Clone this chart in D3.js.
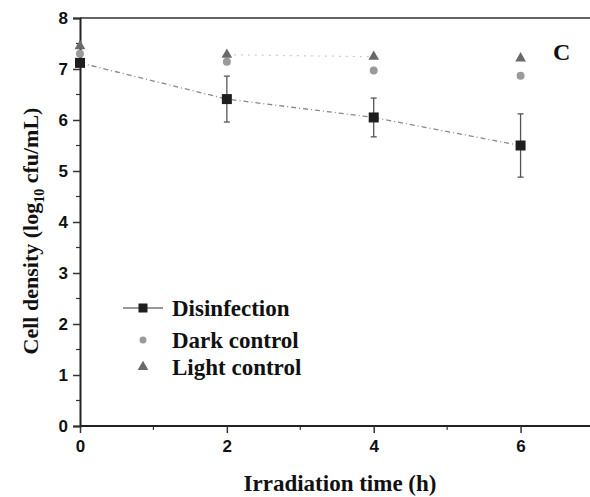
<!DOCTYPE html>
<html>
<head>
<meta charset="utf-8">
<script src="https://cdn.jsdelivr.net/npm/d3@7"></script>
<style>
  body { margin: 0; background: #fff; }
  svg { display: block; }
  .tick text { font-family: "Liberation Sans", Arial, sans-serif; font-weight: bold; font-size: 17px; fill: #111; }
  .lbl { font-family: "Liberation Serif", "Times New Roman", serif; font-weight: bold; fill: #111; }
</style>
</head>
<body>
<svg id="chart" width="590" height="497"></svg>
<script>
const times = [0, 2, 4, 6];
const disinfection = [7.12, 6.41, 6.05, 5.5];
const disinfectionErr = [0, 0.45, 0.38, 0.62];
const darkControl = [7.3, 7.14, 6.97, 6.87];
const lightControl = [7.45, 7.28, 7.24, 7.21];
const xTicks = [0, 2, 4, 6];
const yTicks = [0, 1, 2, 3, 4, 5, 6, 7, 8];
const legendNames = ["Disinfection", "Dark control", "Light control"];

const margin = { top: 18, right: 0, bottom: 71, left: 80 },
    width = 590 - margin.left - margin.right,
    height = 497 - margin.top - margin.bottom;

const svg = d3.select("#chart");
const g = svg.append("g").attr("transform", `translate(${margin.left},${margin.top})`);

const x = d3.scaleLinear().domain([0, 7]).range([0, 514]);
const y = d3.scaleLinear().domain([0, 8]).range([height, 0]);

// top frame line
g.append("line").attr("x1", 0).attr("x2", width).attr("y1", 0).attr("y2", 0)
    .attr("stroke", "#333").attr("stroke-width", 1.5);

// minor ticks
g.selectAll(".ym").data(d3.range(0.5, 8, 1)).join("line")
    .attr("x1", -4).attr("x2", 0).attr("y1", d => y(d)).attr("y2", d => y(d))
    .attr("stroke", "#333").attr("stroke-width", 1.2);
g.selectAll(".xm").data([1, 3, 5, 7]).join("line")
    .attr("x1", d => x(d)).attr("x2", d => x(d)).attr("y1", height).attr("y2", height + 4)
    .attr("stroke", "#333").attr("stroke-width", 1.2);

const yAxis = g.append("g").call(d3.axisLeft(y).tickValues(yTicks).tickSize(7).tickPadding(5).tickFormat(d3.format("d")));
const xAxis = g.append("g").attr("transform", `translate(0,${height})`)
    .call(d3.axisBottom(x).tickValues(xTicks).tickSize(7).tickPadding(7).tickFormat(d3.format("d")));
[yAxis, xAxis].forEach(a => {
    a.attr("font-size", null).attr("font-family", null);
    a.select(".domain").attr("stroke", "#222").attr("stroke-width", 2);
    a.selectAll(".tick line").attr("stroke", "#333").attr("stroke-width", 1.5);
});
xAxis.select(".domain").attr("d", `M0,0H${width}`);

// disinfection line
const line = d3.line().x((d, i) => x(times[i])).y(d => y(d));
g.append("path").datum(disinfection).attr("d", line)
    .attr("fill", "none").attr("stroke", "#888").attr("stroke-width", 1.3).attr("stroke-dasharray", "5,3,1,3");

// light control faint dotted line
g.append("path").datum(lightControl.slice(1, 3)).attr("d", d3.line().x((d, i) => x(times[i + 1])).y(d => y(d)))
    .attr("fill", "none").attr("stroke", "#ccc").attr("stroke-width", 1.2).attr("stroke-dasharray", "2,5");

// error bars
times.forEach((t, i) => {
    if (!disinfectionErr[i]) return;
    const e = disinfectionErr[i];
    g.append("line").attr("x1", x(t)).attr("x2", x(t)).attr("y1", y(disinfection[i] + e)).attr("y2", y(disinfection[i] - e))
        .attr("stroke", "#555").attr("stroke-width", 1.3);
    [e, -e].forEach(s => g.append("line").attr("x1", x(t) - 3).attr("x2", x(t) + 3)
        .attr("y1", y(disinfection[i] + s)).attr("y2", y(disinfection[i] + s)).attr("stroke", "#555").attr("stroke-width", 1.3));
});

const tri = d3.symbol().type(d3.symbolTriangle).size(50);

g.selectAll(".dark").data(darkControl).join("circle")
    .attr("cx", (d, i) => x(times[i])).attr("cy", d => y(d)).attr("r", 4).attr("fill", "#9a9a9a");
g.selectAll(".light").data(lightControl).join("path")
    .attr("d", tri).attr("transform", (d, i) => `translate(${x(times[i])},${y(d)})`).attr("fill", "#6a6a6a");
g.selectAll(".dis").data(disinfection).join("rect")
    .attr("x", (d, i) => x(times[i]) - 5).attr("y", d => y(d) - 5).attr("width", 10).attr("height", 10).attr("fill", "#1e1e1e");

// panel letter
svg.append("text").attr("class", "lbl").attr("x", 553).attr("y", 60).attr("font-size", 24).text("C");

// legend
const lg = svg.append("g");
const lx = 143, ly = [308, 340, 367];
lg.append("line").attr("x1", lx - 20).attr("x2", lx + 20).attr("y1", ly[0]).attr("y2", ly[0]).attr("stroke", "#777").attr("stroke-width", 1.3);
lg.append("rect").attr("x", lx - 4.5).attr("y", ly[0] - 4.5).attr("width", 9).attr("height", 9).attr("fill", "#1e1e1e");
lg.append("circle").attr("cx", lx).attr("cy", ly[1]).attr("r", 3.5).attr("fill", "#9a9a9a");
lg.append("path").attr("d", tri).attr("transform", `translate(${lx},${ly[2]})`).attr("fill", "#6a6a6a");
lg.selectAll(".lt").data(legendNames).join("text").attr("class", "lbl")
    .attr("x", 172).attr("y", (d, i) => ly[i] + 8).attr("font-size", 23).text(d => d);

// axis titles
svg.append("text").attr("class", "lbl").attr("x", 340).attr("y", 491).attr("text-anchor", "middle").attr("font-size", 23)
    .text("Irradiation time (h)");
const yt = svg.append("text").attr("class", "lbl").attr("text-anchor", "middle").attr("font-size", 22)
    .attr("transform", "translate(38,231) rotate(-90)");
yt.append("tspan").text("Cell density (log");
yt.append("tspan").attr("font-size", 14).attr("dy", 6).text("10");
yt.append("tspan").attr("dy", -6).text(" cfu/mL)");
</script>
</body>
</html>
